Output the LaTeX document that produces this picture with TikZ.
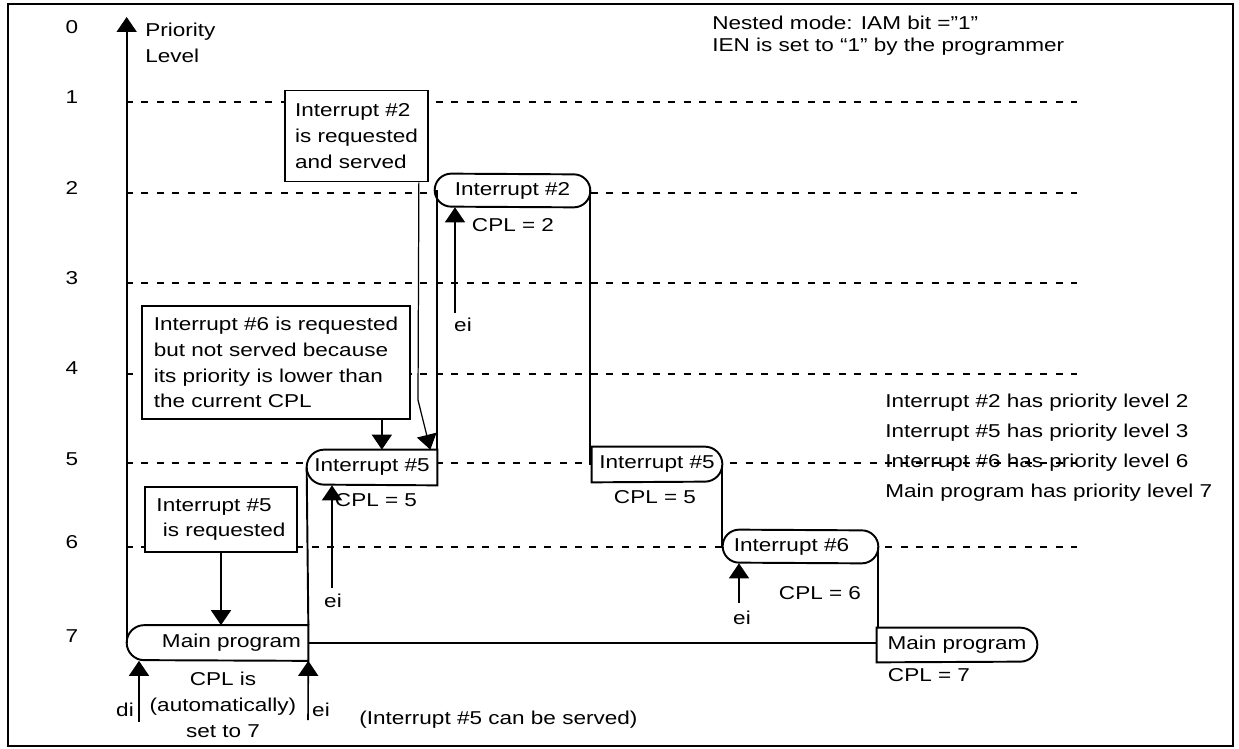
\documentclass[tikz,border=0pt]{standalone}
\usepackage{fontspec}
\setmainfont{Liberation Sans}[FakeStretch=1.21]
\usepackage{tikz}
\usetikzlibrary{arrows.meta,positioning,calc}

\tikzset{
  trace/.style={line width=1.1pt},
  lvline/.style={line width=0.7pt, dash pattern=on 0.14cm off 0.17cm},
  proc/.style={fill=white, inner sep=0pt, minimum height=0.7cm},
  reqbox/.style={draw, fill=white, line width=1pt, align=left, inner sep=0pt},
  arr/.style={line width=0.9pt, -{Triangle[width=0.4cm,length=0.3cm]}},
}

\begin{document}
\begin{tikzpicture}[x=0.02cm, y=-0.02cm, font=\fontsize{10.6}{14.7}\selectfont, every node/.style={inner sep=0pt}]
\useasboundingbox (0,0) rectangle (1239,749);
\draw[line width=1.4pt] (8,4) rectangle (1233,746);

\node (l0) at (72,27) {0};
\node (l1) at (72,97) {1};
\node (l2) at (72,188) {2};
\node (l3) at (72,278) {3};
\node (l4) at (72,368) {4};
\node (l5) at (72,459) {5};
\node (l6) at (72,542) {6};
\node (l7) at (72,636) {7};

\draw[lvline] (126,102) -- (1077,102);
\draw[lvline] (126,193) -- (1077,193);
\draw[lvline] (126,283) -- (1077,283);
\draw[lvline] (126,374) -- (1077,374);
\draw[lvline] (126,463) -- (1077,463);
\draw[lvline] (126,547) -- (1077,547);

\node[anchor=north west, align=left] (prio) at (145,23) {Priority\\Level};
\node[anchor=north west, align=left, font=\fontsize{10.6}{12.6}\selectfont] (mode) at (712,16) {Nested mode: IAM bit =”1”\\IEN is set to “1” by the programmer};
\node[anchor=north west, align=left, font=\fontsize{10.6}{17}\selectfont] (prios) at (885,394) {Interrupt \#2 has priority level 2\\Interrupt \#5 has priority level 3\\Interrupt \#6 has priority level 6\\Main program has priority level 7};

\node[proc, minimum width=3.62cm] (main1) at (217.5,643) {\hspace*{0.56cm}Main program};
\node[proc, minimum width=2.6cm] (i5a) at (372,467.5) {Interrupt \#5};
\node[proc, minimum width=3.1cm, minimum height=0.66cm] (i2) at (512.5,190.5) {Interrupt \#2};
\node[proc, minimum width=2.6cm] (i5b) at (657,464.5) {Interrupt \#5};
\node[proc, minimum width=3.1cm, minimum height=0.66cm] (i6) at (800.5,546.5) {Interrupt \#6\hspace*{0.36cm}};
\node[proc, minimum width=3.2cm, minimum height=0.68cm] (main2) at (957,645) {Main program};

\draw[trace] (main1.south east) -- (main1.north east) -- ([xshift=0.35cm]main1.north west) arc[start angle=90, end angle=270, radius=0.35cm] -- cycle;
\draw[trace] (i5a.south east) -- (i5a.north east) -- ([xshift=0.35cm]i5a.north west) arc[start angle=90, end angle=270, radius=0.35cm] -- cycle;
\draw[trace] ([xshift=0.33cm]i2.north west) arc[start angle=90, end angle=270, radius=0.33cm] -- ([xshift=-0.33cm]i2.south east) arc[start angle=-90, end angle=90, radius=0.33cm] -- cycle;
\draw[trace] (i5b.north west) -- ([xshift=-0.35cm]i5b.north east) arc[start angle=90, end angle=-90, radius=0.35cm] -- (i5b.south west) -- cycle;
\draw[trace] ([xshift=0.33cm]i6.north west) arc[start angle=90, end angle=270, radius=0.33cm] -- ([xshift=-0.33cm]i6.south east) arc[start angle=-90, end angle=90, radius=0.33cm] -- cycle;
\draw[trace] (main2.north west) -- ([xshift=-0.34cm]main2.north east) arc[start angle=90, end angle=-90, radius=0.34cm] -- (main2.south west) -- cycle;

\coordinate (ytop) at (126,17);
\draw[trace, -{Triangle[width=0.4cm,length=0.3cm]}] (main1.west) -- (main1.west |- ytop);
\draw[trace] (main1.north east) -- (i5a.west);
\draw[trace] (main1.east) -- (main1.east -| main2.west);
\draw[trace] (i5a.north east) |- (i2.west);
\draw[trace] (i2.east) |- (i5b.west);
\draw[trace] (i5b.east) |- (i6.west);
\draw[trace] (i6.east) -- (i6.east |- main2.north);

\node[reqbox, minimum width=2.86cm, minimum height=1.82cm] (req2) at (356.5,136) {Interrupt \#2\\is requested\\and served};
\node[reqbox, minimum width=5.36cm, minimum height=2.26cm] (req6) at (276,362.5) {Interrupt \#6 is requested\\but not served because\\its priority is lower than\\the current CPL};
\node[reqbox, minimum width=3.04cm, minimum height=1.3cm] (req5) at (221,519.5) {Interrupt \#5\\~is requested};

\draw[arr] (req5.south) -- (req5.south |- main1.north);
\coordinate (r6a) at ($(req6.south east)+(-29,0)$);
\draw[arr] (r6a) -- (r6a |- i5a.north);
\coordinate (r2a) at ($(req2.south east)+(-10,0)$);
\coordinate (r2b) at (418,400);
\draw[arr, line width=0.7pt] (r2a) -- (r2b) -- ($(i5a.north east)+(-7,0)$);

\coordinate (diS) at (139,722);
\draw[arr] (diS) -- (diS |- main1.south);
\coordinate (eiS1) at (308,720);
\draw[arr] (eiS1) -- (main1.south east);
\coordinate (eiS2) at (332,588);
\draw[arr] (eiS2) -- (eiS2 |- i5a.south);
\coordinate (eiS3) at (455,313);
\draw[arr] (eiS3) -- (eiS3 |- i2.south);
\coordinate (eiS4) at (739,603);
\draw[arr] (eiS4) -- (eiS4 |- i6.south);

\node (di) at (125,710) {di};
\node (ei1) at (321,710) {ei};
\node (ei2) at (333,601) {ei};
\node (ei3) at (463,325) {ei};
\node (ei4) at (742,618) {ei};

\node (cpl2) at (513,225) {CPL = 2};
\node (cpl5a) at (376,500) {CPL = 5};
\node (cpl5b) at (655,497) {CPL = 5};
\node (cpl6) at (820,593) {CPL = 6};
\node (cpl7) at (929,675) {CPL = 7};
\node[align=center] (cplis) at (223,705) {CPL is\\(automatically)\\set to 7};
\node[anchor=west] (served) at (359,720) {(Interrupt \#5 can be served)};
\end{tikzpicture}
\end{document}
